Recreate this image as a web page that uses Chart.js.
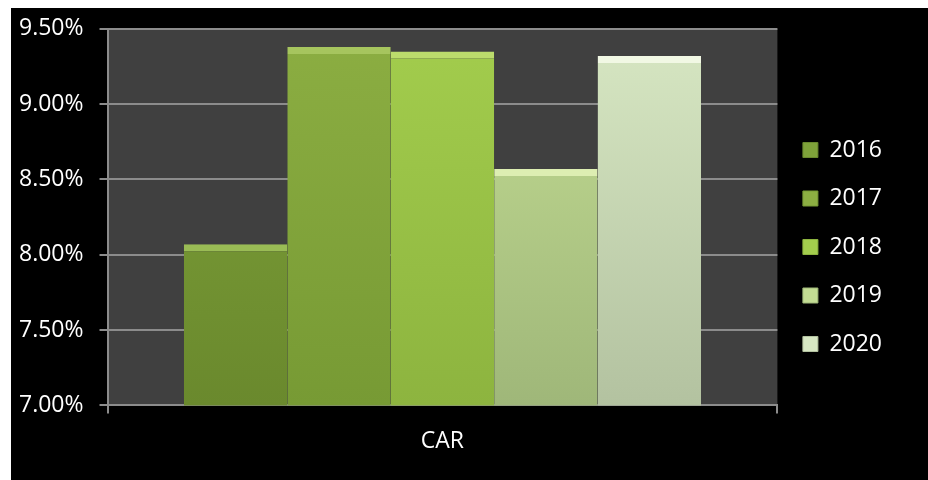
<!DOCTYPE html>
<html>
<head>
<meta charset="utf-8">
<script src="https://cdn.jsdelivr.net/npm/chart.js@4"></script>
<style>
  html, body { margin: 0; padding: 0; background: #fff; }
  #wrap { position: absolute; left: 11px; top: 8px; width: 917px; height: 472px; background: #000; overflow: hidden; }
  #carChart { position: absolute; left: 0; top: -9px; }
</style>
</head>
<body>
<div id="wrap"><canvas id="carChart" width="917" height="481"></canvas></div>
<script>
// =============================
// DATA
// =============================
const categories = ['CAR'];
const years = ['2016', '2017', '2018', '2019', '2020'];
const carValues = [8.07, 9.38, 9.35, 8.57, 9.32];
const yTicks = [7.0, 7.5, 8.0, 8.5, 9.0, 9.5];

// bar shades: [top, bottom, bevel]
const shades = [
  ['#7fa23a', '#6a892d', '#9abc55'],
  ['#8cae42', '#779a34', '#a6c55e'],
  ['#a3cd4d', '#8db43f', '#bcdc6c'],
  ['#c3dc93', '#9fb779', '#ddeeb2'],
  ['#d7e7c3', '#b3c2a0', '#f1f8e4']
];

function grad(ctx, idx) {
  const area = ctx.chart.chartArea;
  if (!area) return shades[idx][0];
  const g = ctx.chart.ctx.createLinearGradient(0, area.top, 0, area.bottom);
  g.addColorStop(0, shades[idx][0]);
  g.addColorStop(1, shades[idx][1]);
  return g;
}

// =============================
// PLOT BACKGROUND + LEGEND WIDTH
// =============================
const plotBg = {
  id: 'plotBg',
  beforeLayout(chart) {
    // widen the legend box so the plot ends where the original does
    const lg = chart.legend;
    if (lg && !lg._wide) {
      const fit = lg.fit.bind(lg);
      lg.fit = function () { fit(); this.width += 24; };
      lg._wide = true;
    }
  },
  beforeDraw(chart) {
    const { ctx, chartArea: a } = chart;
    ctx.save();
    ctx.fillStyle = '#404040';
    ctx.fillRect(a.left, a.top, a.right - a.left, a.bottom - a.top);
    ctx.restore();
  }
};

const font = { family: '"Open Sans", sans-serif', size: 23 };

new Chart(document.getElementById('carChart'), {
  type: 'bar',
  data: {
    labels: categories,
    datasets: years.map((y, i) => ({
      label: y,
      data: [carValues[i]],
      backgroundColor: ctx => grad(ctx, i),
      borderColor: shades[i][2],
      borderWidth: { top: 7, left: 0, right: 0, bottom: 0 },
      borderSkipped: false,
      barPercentage: 1,
      categoryPercentage: 0.772
    }))
  },
  options: {
    responsive: false,
    animation: false,
    layout: { padding: { top: 2, right: 12, left: -8, bottom: 11 } },
    plugins: {
      tooltip: { enabled: false },
      legend: {
        position: 'right',
        title: { display: true, text: ' ', font: { size: 10 }, padding: 6 },
        labels: {
          color: '#fff',
          font: font,
          boxWidth: 15,
          boxHeight: 15,
          padding: 25.5,
          generateLabels: chart => chart.data.datasets.map((d, i) => ({
            text: d.label,
            fillStyle: shades[i][0],
            strokeStyle: shades[i][1],
            lineWidth: 1,
            fontColor: '#fff',
            datasetIndex: i
          }))
        }
      }
    },
    scales: {
      x: {
        offset: true,
        grid: { offset: true, drawOnChartArea: false, color: '#8c8c8c', lineWidth: 2, tickLength: 8 },
        border: { color: '#8c8c8c', width: 2 },
        ticks: { color: '#fff', font: font, padding: 14 }
      },
      y: {
        min: yTicks[0],
        max: yTicks[yTicks.length - 1],
        afterBuildTicks: axis => { axis.ticks = yTicks.map(v => ({ value: v })); },
        grid: { color: '#8c8c8c', lineWidth: 2, tickLength: 8 },
        border: { color: '#8c8c8c', width: 2 },
        ticks: {
          color: '#fff',
          font: font,
          padding: 16,
          callback: v => v.toFixed(2) + '%'
        }
      }
    }
  },
  plugins: [plotBg]
});
</script>
</body>
</html>
